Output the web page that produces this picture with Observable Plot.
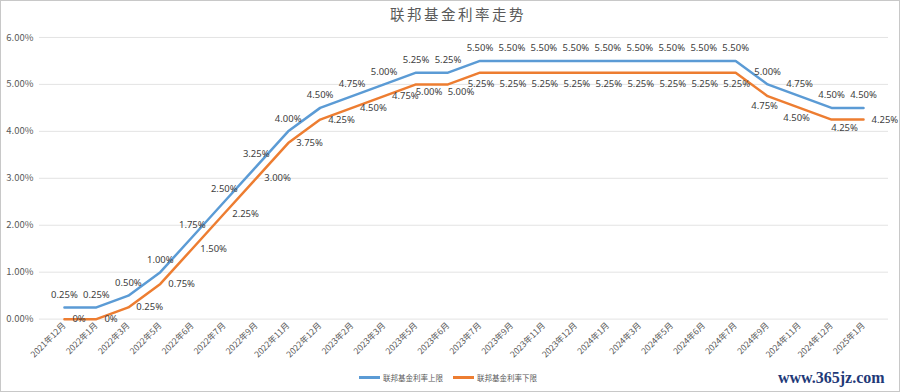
<!DOCTYPE html>
<html>
<head>
<meta charset="utf-8">
<script src="https://cdn.jsdelivr.net/npm/d3@7"></script>
<script src="https://cdn.jsdelivr.net/npm/@observablehq/plot@0.6"></script>
<style>
  html, body { margin: 0; padding: 0; background: #fff; }
  #wrap { position: relative; width: 900px; height: 392px; box-sizing: border-box; border: 1px solid #c8c8c8; overflow: hidden; font-family: "Noto Sans CJK SC", "Noto Sans", sans-serif; }
  #title { position: absolute; top: 2px; left: 0; width: 914px; text-align: center; font-size: 14.5px; letter-spacing: 2.5px; color: #595959; font-weight: normal; }
  #chart { position: absolute; top: 0; left: -1px; }
  #legend { position: absolute; top: 371px; left: 358px; font-size: 7.5px; color: #595959; display: flex; align-items: center; white-space: nowrap; }
  .sw { display: inline-block; width: 21px; height: 2.5px; margin-right: 3px; }
  #wm { position: absolute; top: 367px; left: 777px; font-family: "Liberation Serif", serif; font-weight: bold; font-size: 16px; line-height: 20px; color: #1f3a78; white-space: nowrap; }
</style>
</head>
<body>
<div id="wrap">
  <div id="title">联邦基金利率走势</div>
  <div id="chart"></div>
  <div id="legend">
    <span class="sw" style="background:#5B9BD5"></span><span>联邦基金利率上限</span>
    <span class="sw" style="background:#ED7D31;margin-left:10px"></span><span>联邦基金利率下限</span>
  </div>
  <div id="wm">www.365jz.com</div>
</div>
<script>
const categories = ["2021年12月","2022年1月","2022年3月","2022年5月","2022年6月","2022年7月","2022年9月","2022年11月","2022年12月","2023年2月","2023年3月","2023年5月","2023年6月","2023年7月","2023年9月","2023年11月","2023年12月","2024年1月","2024年3月","2024年5月","2024年6月","2024年7月","2024年9月","2024年11月","2024年12月","2025年1月"];
const upper = [0.25,0.25,0.5,1.0,1.75,2.5,3.25,4.0,4.5,4.75,5.0,5.25,5.25,5.5,5.5,5.5,5.5,5.5,5.5,5.5,5.5,5.5,5.0,4.75,4.5,4.5];
const lower = [0,0,0.25,0.75,1.5,2.25,3.0,3.75,4.25,4.5,4.75,5.0,5.0,5.25,5.25,5.25,5.25,5.25,5.25,5.25,5.25,5.25,4.75,4.5,4.25,4.25];
const yTicks = [0,1,2,3,4,5,6];

const rows = categories.map((c, i) => ({c, i, up: upper[i], low: lower[i]}));
const fmt = v => v === 0 ? "0%" : v.toFixed(2) + "%";
const lowMax = d3.max(lower);
const n = rows.length;
const lowBelow = rows.filter(d => d.low === lowMax);
const lowFlat = rows.filter(d => d.low !== lowMax && d.low > 0 && d.i < n - 1 &&
  (lower[d.i + 1] === d.low || (d.i > 0 && lower[d.i - 1] === d.low)));
const lowFall = rows.filter(d => !lowBelow.includes(d) && !lowFlat.includes(d) && d.i > 0 && d.i < n - 1 && lower[d.i - 1] > d.low);
const lowRight = rows.filter(d => !lowBelow.includes(d) && !lowFlat.includes(d) && !lowFall.includes(d));

const labelFont = {fontSize: 9.5, fill: "#404040", fontFamily: "Noto Sans, sans-serif"};

const chart = Plot.plot({
  width: 900,
  height: 360,
  marginTop: 36,
  marginBottom: 42,
  marginLeft: 39,
  marginRight: 11,
  style: {fontFamily: "Noto Sans CJK SC, Noto Sans, sans-serif", background: "transparent", overflow: "visible"},
  x: {type: "point", domain: categories, padding: 0.5, label: null},
  y: {domain: [0, 6], label: null},
  marks: [
    Plot.gridY(yTicks, {stroke: "#e3e3e3", strokeOpacity: 1, strokeWidth: 1}),
    Plot.axisY(yTicks, {tickSize: 0, tickPadding: 6, tickFormat: d => d.toFixed(2) + "%", fontSize: 9.5, fill: "#595959", label: null}),
    Plot.axisX({tickSize: 0, tickPadding: 5, tickRotate: -45, fontSize: 8.5, fill: "#595959", label: null}),
    Plot.lineY(rows, {x: "c", y: "up", stroke: "#5B9BD5", strokeWidth: 2.5}),
    Plot.lineY(rows, {x: "c", y: "low", stroke: "#ED7D31", strokeWidth: 2.5}),
    Plot.text(rows, {x: "c", y: "up", text: d => fmt(d.up), dy: -12.5, ...labelFont}),
    Plot.text(lowBelow, {x: "c", y: "low", text: d => fmt(d.low), dy: 11, dx: 1, ...labelFont}),
    Plot.text(lowFlat, {x: "c", y: "low", text: d => fmt(d.low), dy: 8, dx: 13, ...labelFont}),
    Plot.text(lowFall, {x: "c", y: "low", text: d => fmt(d.low), dy: 10, dx: -3, ...labelFont}),
    Plot.text(lowRight, {x: "c", y: "low", text: d => fmt(d.low), dy: 0, textAnchor: "start", ...labelFont, dx: 8})
  ]
});
document.getElementById("chart").appendChild(chart);
</script>
</body>
</html>
